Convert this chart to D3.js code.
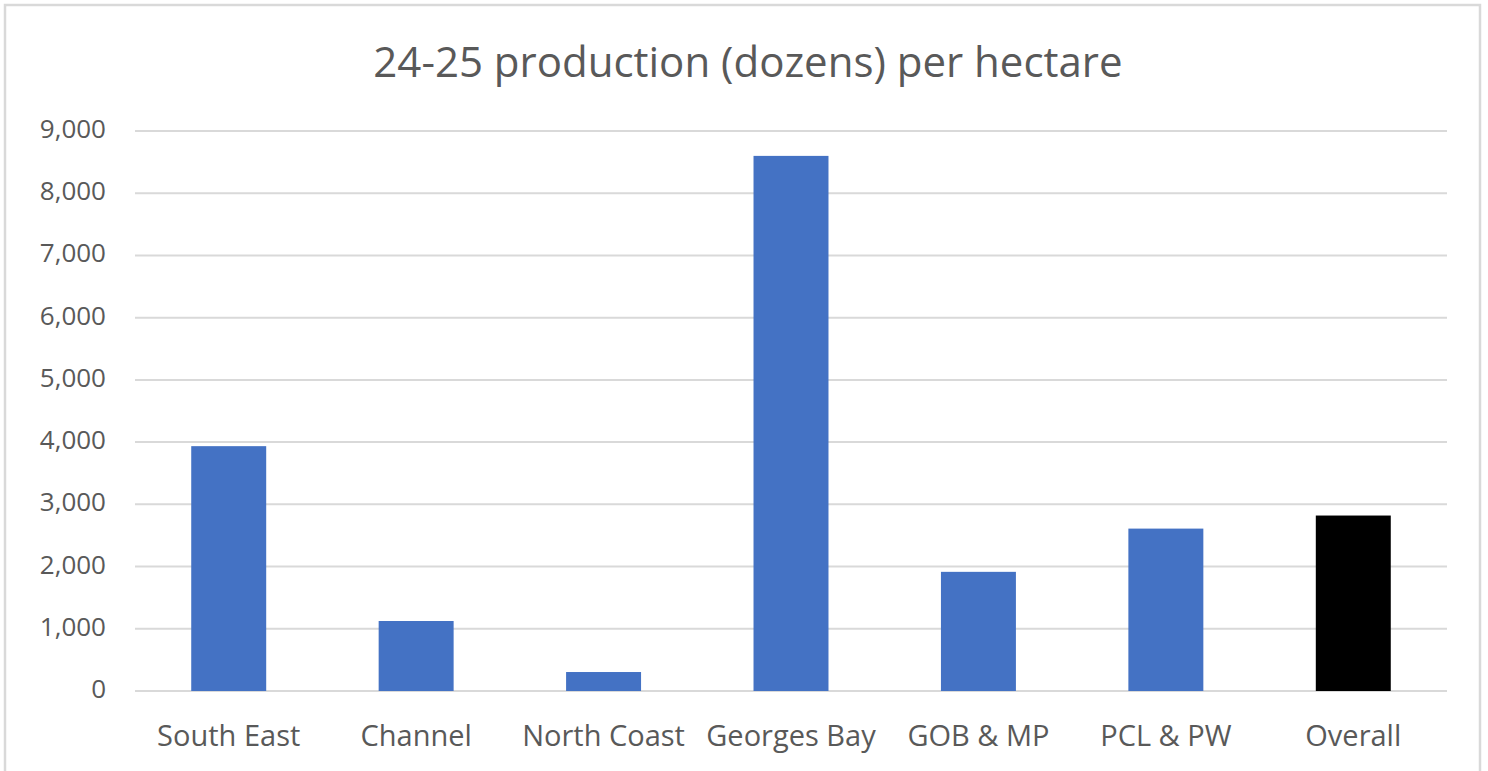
<!DOCTYPE html>
<html>
<head>
<meta charset="utf-8">
<script src="https://cdn.jsdelivr.net/npm/d3@7"></script>
<style>
  body { margin: 0; background: #fff; }
  text { font-family: "Open Sans", sans-serif; fill: #595959; }
</style>
</head>
<body>
<div id="container"></div>
<script>
// Chart data
var categories = ["South East", "Channel", "North Coast", "Georges Bay", "GOB & MP", "PCL & PW", "Overall"];
var values = [3935, 1125, 305, 8600, 1915, 2610, 2820];
var yTicks = [0, 1000, 2000, 3000, 4000, 5000, 6000, 7000, 8000, 9000];
var title = "24-25 production (dozens) per hectare";

// SVG dimensions
var width = 1488,
    height = 771;
var margin = { top: 131, right: 41, bottom: 80, left: 135 };

var svg = d3.select("#container")
    .append("svg")
    .attr("width", width)
    .attr("height", height);

// Chart border
svg.append("rect")
    .attr("x", 5)
    .attr("y", 5)
    .attr("width", 1475)
    .attr("height", 780)
    .attr("fill", "none")
    .attr("stroke", "#d9d9d9")
    .attr("stroke-width", 2.5);

var x = d3.scaleBand()
    .domain(categories)
    .range([margin.left, width - margin.right])
    .paddingInner(0.6)
    .paddingOuter(0.3);

var y = d3.scaleLinear()
    .domain([0, 9000])
    .range([height - margin.bottom, margin.top]);

// Gridlines
svg.append("g")
    .selectAll("line")
    .data(yTicks)
    .enter()
    .append("line")
    .attr("x1", margin.left)
    .attr("x2", width - margin.right)
    .attr("y1", function(d) { return y(d); })
    .attr("y2", function(d) { return y(d); })
    .attr("stroke", "#d9d9d9")
    .attr("stroke-width", 2);

// Y axis labels
var yAxis = d3.axisLeft(y)
    .tickValues(yTicks)
    .tickFormat(d3.format(","))
    .tickSize(0)
    .tickPadding(0);
var gy = svg.append("g")
    .attr("transform", "translate(106,0)")
    .call(yAxis);
gy.select(".domain").remove();
gy.selectAll("text")
    .attr("dy", "0.25em")
    .style("font-size", "26px")
    .style("font-family", "'Open Sans', sans-serif")
    .attr("fill", "#595959");

// Bars
svg.selectAll(".bar")
    .data(values)
    .enter()
    .append("rect")
    .attr("class", "bar")
    .attr("x", function(d, i) { return x(categories[i]); })
    .attr("width", x.bandwidth())
    .attr("y", function(d) { return y(d); })
    .attr("height", function(d) { return y(0) - y(d); })
    .attr("fill", function(d, i) { return categories[i] == "Overall" ? "#000000" : "#4472c4"; });

// X axis labels
var xAxis = d3.axisBottom(x).tickSize(0).tickPadding(0);
var gx = svg.append("g")
    .attr("transform", "translate(0," + 746 + ")")
    .call(xAxis);
gx.select(".domain").remove();
gx.selectAll("text")
    .attr("dy", 0)
    .style("font-size", "29px")
    .style("font-family", "'Open Sans', sans-serif")
    .attr("fill", "#595959");

// Title
svg.append("text")
    .attr("x", 748)
    .attr("y", 77)
    .attr("text-anchor", "middle")
    .style("font-size", "42px")
    .text(title);
</script>
</body>
</html>
